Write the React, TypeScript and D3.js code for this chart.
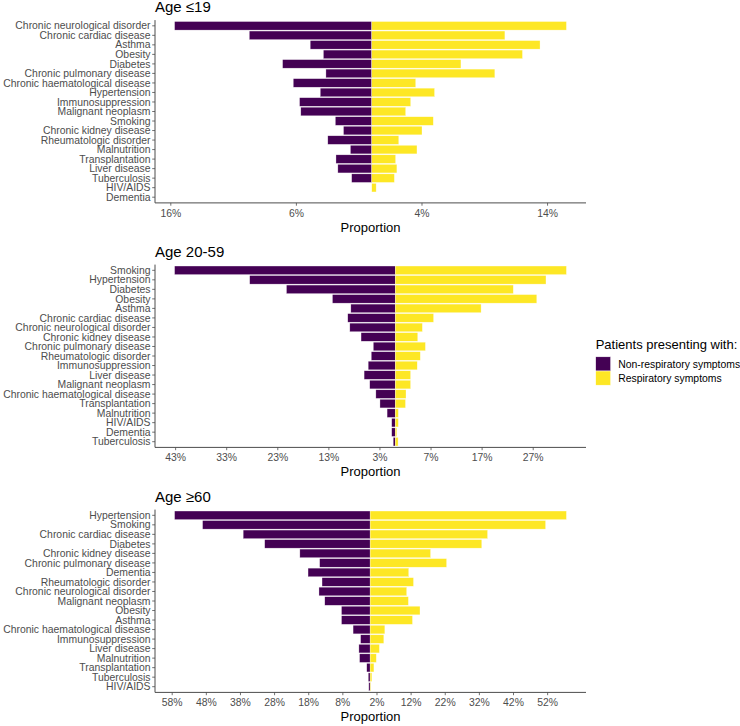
import * as d3 from 'd3';

// ---- data (percent of patients) ----
const youngCategories = [
  'Chronic neurological disorder', 'Chronic cardiac disease', 'Asthma', 'Obesity', 'Diabetes',
  'Chronic pulmonary disease', 'Chronic haematological disease', 'Hypertension', 'Immunosuppression',
  'Malignant neoplasm', 'Smoking', 'Chronic kidney disease', 'Rheumatologic disorder', 'Malnutrition',
  'Transplantation', 'Liver disease', 'Tuberculosis', 'HIV/AIDS', 'Dementia',
];
const youngNonResp = [15.7, 9.75, 4.9, 3.85, 7.1, 3.65, 6.25, 4.1, 5.75, 5.65, 2.9, 2.25, 3.5, 1.7, 2.85, 2.7, 1.6, 0, 0];
const youngResp = [15.5, 10.6, 13.4, 12.0, 7.1, 9.8, 3.5, 5.0, 3.1, 2.7, 4.9, 4.0, 2.15, 3.6, 1.9, 2.0, 1.8, 0.35, 0];
const youngTicks = [-16, -6, 4, 14];

const adultCategories = [
  'Smoking', 'Hypertension', 'Diabetes', 'Obesity', 'Asthma', 'Chronic cardiac disease',
  'Chronic neurological disorder', 'Chronic kidney disease', 'Chronic pulmonary disease',
  'Rheumatologic disorder', 'Immunosuppression', 'Liver disease', 'Malignant neoplasm',
  'Chronic haematological disease', 'Transplantation', 'Malnutrition', 'HIV/AIDS', 'Dementia', 'Tuberculosis',
];
const adultNonResp = [43.2, 28.5, 21.3, 12.3, 8.7, 9.3, 8.9, 6.7, 4.3, 4.7, 5.3, 6.1, 5.0, 3.8, 3.0, 1.6, 0.7, 0.7, 0.4];
const adultResp = [33.5, 29.5, 23.1, 27.7, 16.8, 7.5, 5.3, 4.4, 5.9, 4.9, 4.3, 3.0, 3.0, 2.1, 2.0, 0.6, 0.6, 0.3, 0.55];
const adultTicks = [-43, -33, -23, -13, -3, 7, 17, 27];

const elderCategories = [
  'Hypertension', 'Smoking', 'Chronic cardiac disease', 'Diabetes', 'Chronic kidney disease',
  'Chronic pulmonary disease', 'Dementia', 'Rheumatologic disorder', 'Chronic neurological disorder',
  'Malignant neoplasm', 'Obesity', 'Asthma', 'Chronic haematological disease', 'Immunosuppression',
  'Liver disease', 'Malnutrition', 'Transplantation', 'Tuberculosis', 'HIV/AIDS',
];
const elderNonResp = [57.3, 49.1, 37.2, 30.9, 20.6, 14.8, 18.2, 14.1, 15.0, 13.3, 8.4, 8.4, 5.0, 2.8, 3.3, 3.1, 1.0, 0.55, 0.4];
const elderResp = [57.5, 51.4, 34.4, 32.7, 17.7, 22.4, 11.3, 12.7, 10.7, 11.2, 14.6, 12.4, 4.3, 4.0, 2.7, 1.8, 1.1, 0.5, 0.15];
const elderTicks = [-58, -48, -38, -28, -18, -8, 2, 12, 22, 32, 42, 52];

const legendTitle = 'Patients presenting with:';
const seriesNames = ['Non-respiratory symptoms', 'Respiratory symptoms'];
const seriesColors = ['#440154', '#FDE725'];

const panels = [
  { title: 'Age ≤19', categories: youngCategories, nonResp: youngNonResp, resp: youngResp, ticks: youngTicks },
  { title: 'Age 20-59', categories: adultCategories, nonResp: adultNonResp, resp: adultResp, ticks: adultTicks },
  { title: 'Age ≥60', categories: elderCategories, nonResp: elderNonResp, resp: elderResp, ticks: elderTicks },
];

// ---- layout ----
const W = 740;
const H = 726;
const left = 155;
const right = 586;
const panelTops = [20.1, 264.6, 509.6];
const panelH = 182.8;
const font = '"Liberation Sans", Arial, sans-serif';
const axisGrey = '#4D4D4D';

function Panel({ p, top }: { p: typeof panels[number]; top: number }) {
  const lo = -d3.max(p.nonResp)!;
  const hi = d3.max(p.resp)!;
  const pad = (hi - lo) * 0.05;
  const x = d3.scaleLinear().domain([lo - pad, hi + pad]).range([left, right]);
  const y = d3.scaleBand<string>()
    .domain(p.categories)
    .range([top, top + panelH])
    .paddingInner(0.1)
    .paddingOuter(0.15);
  const bottom = top + panelH;
  const x0 = x(0);

  return (
    <g>
      <text x={left} y={top - 7.8} fontSize={15} fill="#000">{p.title}</text>
      {p.categories.map((c, i) => (
        <g key={c}>
          {p.nonResp[i] > 0 && (
            <rect x={x(-p.nonResp[i])} y={y(c)} width={x0 - x(-p.nonResp[i])} height={y.bandwidth()}
              fill={seriesColors[0]} stroke="#fff" strokeOpacity={0.6} strokeWidth={0.5} />
          )}
          {p.resp[i] > 0 && (
            <rect x={x0} y={y(c)} width={x(p.resp[i]) - x0} height={y.bandwidth()}
              fill={seriesColors[1]} stroke="#fff" strokeOpacity={0.6} strokeWidth={0.5} />
          )}
        </g>
      ))}
      {/* y axis */}
      <line x1={left} x2={left} y1={top} y2={bottom} stroke={axisGrey} strokeWidth={1} />
      {p.categories.map((c) => {
        const cy = y(c)! + y.bandwidth() / 2;
        return (
          <g key={'l' + c}>
            <line x1={left - 2.8} x2={left} y1={cy} y2={cy} stroke={axisGrey} strokeWidth={0.8} />
            <text x={left - 4.5} y={cy} dy="0.35em" textAnchor="end" fontSize={10.4} fill={axisGrey}>{c}</text>
          </g>
        );
      })}
      {/* x axis */}
      <line x1={left} x2={right} y1={bottom} y2={bottom} stroke={axisGrey} strokeWidth={1} />
      {p.ticks.map((t) => (
        <g key={'t' + t}>
          <line x1={x(t)} x2={x(t)} y1={bottom} y2={bottom + 2.8} stroke={axisGrey} strokeWidth={0.8} />
          <text x={x(t)} y={bottom + 13.6} textAnchor="middle" fontSize={10.4} fill={axisGrey}>
            {Math.abs(t) + '%'}
          </text>
        </g>
      ))}
      <text x={(left + right) / 2} y={bottom + 29} textAnchor="middle" fontSize={13} fill="#000">Proportion</text>
    </g>
  );
}

export default function App() {
  return (
    <svg width={W} height={H} style={{ position: 'absolute', left: 0, top: 0, fontFamily: font }}>
      <rect width={W} height={H} fill="#fff" />
      {panels.map((p, i) => (
        <Panel key={p.title} p={p} top={panelTops[i]} />
      ))}
      <g>
        <text x={595.7} y={348.5} fontSize={13} fill="#000">{legendTitle}</text>
        {seriesNames.map((s, i) => (
          <g key={s}>
            <rect x={595.7} y={356.8 + i * 14.2} width={15} height={14.2} fill={seriesColors[i]} stroke="#fff" strokeWidth={0.5} />
            <text x={618.3} y={367.8 + i * 14.4} fontSize={10.4} fill="#000">{s}</text>
          </g>
        ))}
      </g>
    </svg>
  );
}
